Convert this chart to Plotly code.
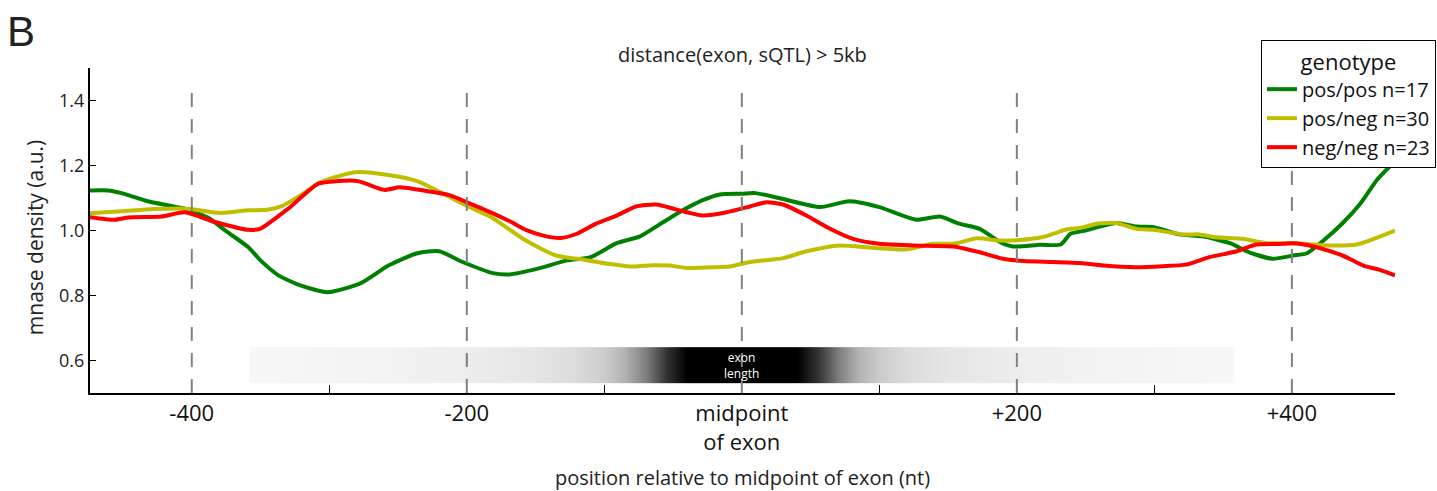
import plotly.graph_objects as go

# ---------------- data ----------------
pos_pos_x = [-474, -461, -451, -432, -417, -403, -388, -374, -359, -350, -337, -321, -301, -277, -257, -236,
             -220, -203, -181, -169, -149, -127, -110, -91, -74, -57, -43, -28, -16, 0,
             10, 30, 57, 78, 100, 127, 144, 158, 173, 188, 197, 217, 232, 239, 250,
             272, 287, 299, 318, 335, 355, 369, 386, 401, 411, 423, 437, 450, 462, 475]
pos_pos_y = [1.123, 1.123, 1.115, 1.090, 1.077, 1.065, 1.039, 0.995, 0.949, 0.908, 0.862, 0.831, 0.810, 0.838, 0.892, 0.930,
             0.936, 0.903, 0.869, 0.865, 0.882, 0.908, 0.918, 0.961, 0.982, 1.026, 1.062, 1.094, 1.111, 1.113,
             1.115, 1.097, 1.072, 1.090, 1.072, 1.033, 1.043, 1.021, 1.005, 0.964, 0.951, 0.956, 0.957, 0.990, 1.000,
             1.023, 1.012, 1.011, 0.988, 0.982, 0.961, 0.933, 0.913, 0.923, 0.930, 0.969, 1.023, 1.084, 1.156, 1.213]

pos_neg_x = [-474, -451, -428, -403, -379, -359, -345, -335, -321, -306, -292, -279, -257, -236,
             -217, -199, -183, -157, -135, -115, -96, -79, -65, -53, -40, -23, -9, 6,
             12, 30, 47, 71, 95, 120, 139, 155, 171, 188, 200, 219, 236, 246,
             258, 272, 287, 299, 321, 333, 343, 365, 382, 401, 428, 447, 475]
pos_neg_y = [1.053, 1.059, 1.066, 1.067, 1.054, 1.062, 1.064, 1.074, 1.108, 1.149, 1.169, 1.180, 1.171, 1.152,
             1.113, 1.074, 1.043, 0.969, 0.923, 0.910, 0.897, 0.889, 0.893, 0.892, 0.885, 0.887, 0.889, 0.903,
             0.906, 0.915, 0.936, 0.954, 0.947, 0.942, 0.959, 0.960, 0.976, 0.969, 0.970, 0.980, 1.003, 1.008,
             1.021, 1.023, 1.005, 1.002, 0.988, 0.988, 0.980, 0.974, 0.961, 0.961, 0.954, 0.957, 1.000]

neg_neg_x = [-474, -456, -446, -422, -405, -383, -359, -350, -330, -308, -294, -279, -260, -249, -236,
             -212, -199, -186, -169, -157, -145, -132, -120, -106, -91, -77, -62, -48, -28, -11, 6,
             18, 30, 47, 62, 81, 100, 125, 154, 173, 190, 205, 226, 246,
             263, 287, 306, 323, 340, 360, 374, 394, 401, 416, 437, 452, 464, 475]
neg_neg_y = [1.041, 1.033, 1.040, 1.043, 1.056, 1.026, 1.002, 1.006, 1.067, 1.144, 1.152, 1.152, 1.125, 1.133, 1.126,
             1.108, 1.085, 1.062, 1.029, 1.002, 0.985, 0.977, 0.990, 1.021, 1.046, 1.074, 1.080, 1.065, 1.046, 1.056, 1.074,
             1.087, 1.080, 1.046, 1.010, 0.974, 0.959, 0.954, 0.951, 0.933, 0.913, 0.906, 0.903, 0.900,
             0.892, 0.887, 0.890, 0.895, 0.918, 0.936, 0.957, 0.959, 0.961, 0.951, 0.923, 0.892, 0.879, 0.862]

series_names = ["pos/pos n=17", "pos/neg n=30", "neg/neg n=23"]
series_colors = ["#008000", "#bfbf00", "#ff0000"]

guide_positions = [-400, -200, 0, 200, 400]
x_tick_vals = [-400, -200, 0, 200, 400]
x_tick_text = ["-400", "-200", "midpoint<br>of exon", "+200", "+400"]
y_tick_vals = [0.6, 0.8, 1.0, 1.2, 1.4]
y_tick_text = ["0.6", "0.8", "1.0", "1.2", "1.4"]

# exon-length shading profile (darkness 0..1)
exon_grad_x = [-356, -352, -250, -200, -150, -120, -100, -85, -70, -55, -40, 0,
               40, 55, 70, 85, 100, 120, 150, 200, 250, 352, 356]
exon_grad_v = [0.03, 0.03, 0.05, 0.07, 0.10, 0.14, 0.20, 0.30, 0.50, 0.80, 1.0, 1.0,
               1.0, 0.80, 0.50, 0.30, 0.20, 0.14, 0.10, 0.07, 0.05, 0.03, 0.03]
exon_bar_y = [0.529, 0.585, 0.641]

FONT = "Open Sans, Lato, DejaVu Sans, sans-serif"

fig = go.Figure()

fig.add_trace(go.Heatmap(
    x=exon_grad_x, y=exon_bar_y,
    z=[exon_grad_v, exon_grad_v],
    colorscale=[[0, "white"], [1, "black"]], zmin=0, zmax=1,
    zsmooth="best", showscale=False, hoverinfo="skip", showlegend=False,
))

for xs, ys, name, col in zip([pos_pos_x, pos_neg_x, neg_neg_x],
                             [pos_pos_y, pos_neg_y, neg_neg_y],
                             series_names, series_colors):
    fig.add_trace(go.Scatter(
        x=xs, y=ys, mode="lines", name=name,
        line=dict(color=col, width=4, shape="spline", smoothing=0.6),
    ))

for gx in guide_positions:
    fig.add_shape(type="line", xref="x", yref="y", x0=gx, x1=gx, y0=0.5, y1=1.46,
                  line=dict(color="#808080", width=2, dash="14px,12px"), layer="above")

fig.add_annotation(x=0, y=exon_bar_y[1], xref="x", yref="y", text="exon<br>length",
                   showarrow=False, font=dict(family=FONT, size=12, color="white"))

fig.add_annotation(x=0.5, y=1.04, xref="paper", yref="paper", text="distance(exon, sQTL) > 5kb",
                   showarrow=False, yanchor="middle", font=dict(family=FONT, size=20, color="#222"))
fig.add_annotation(x=-0.0655, y=1.19, xref="paper", yref="paper", text="B", xanchor="left", yanchor="top",
                   showarrow=False, font=dict(family="Liberation Sans, Arial, sans-serif", size=42, color="#222"))
fig.add_annotation(x=0.5, y=-0.2615, xref="paper", yref="paper",
                   text="position relative to midpoint of exon (nt)",
                   showarrow=False, yanchor="middle", font=dict(family=FONT, size=20, color="#222"))
fig.add_annotation(x=-0.042, y=0.48, xref="paper", yref="paper", text="mnase density (a.u.)",
                   textangle=-90, showarrow=False, xanchor="center", yanchor="middle",
                   font=dict(family=FONT, size=21, color="#222"))

fig.update_layout(
    width=1437, height=491,
    margin=dict(l=90, r=42, t=68, b=98, autoexpand=False),
    paper_bgcolor="white", plot_bgcolor="white",
    font=dict(family=FONT, color="#222"),
    showlegend=True,
    legend=dict(
        title=dict(text="genotype", font=dict(family=FONT, size=22, color="#111"), side="top center"),
        x=1.0314, xanchor="right", y=1.086, yanchor="top",
        bordercolor="black", borderwidth=1, bgcolor="white",
        font=dict(family=FONT, size=20, color="#111"),
        tracegroupgap=0, itemwidth=30,
    ),
    xaxis=dict(
        range=[-474, 475], showgrid=False, zeroline=False,
        showline=True, linecolor="black", linewidth=2,
        tickmode="array", tickvals=x_tick_vals, ticktext=x_tick_text,
        ticks="inside", ticklen=10, tickwidth=1, tickcolor="black",
        tickfont=dict(family=FONT, size=22, color="#111"),
        minor=dict(dtick=100, tick0=0, ticks="inside", ticklen=8, tickcolor="black", tickwidth=1),
    ),
    yaxis=dict(
        range=[0.5, 1.5], showgrid=False, zeroline=False,
        showline=True, linecolor="black", linewidth=2,
        tickmode="array", tickvals=y_tick_vals, ticktext=y_tick_text,
        ticks="inside", ticklen=6, tickwidth=1, tickcolor="black",
        tickfont=dict(family=FONT, size=18, color="#222"),
    ),
)

fig.write_html("out.html")
